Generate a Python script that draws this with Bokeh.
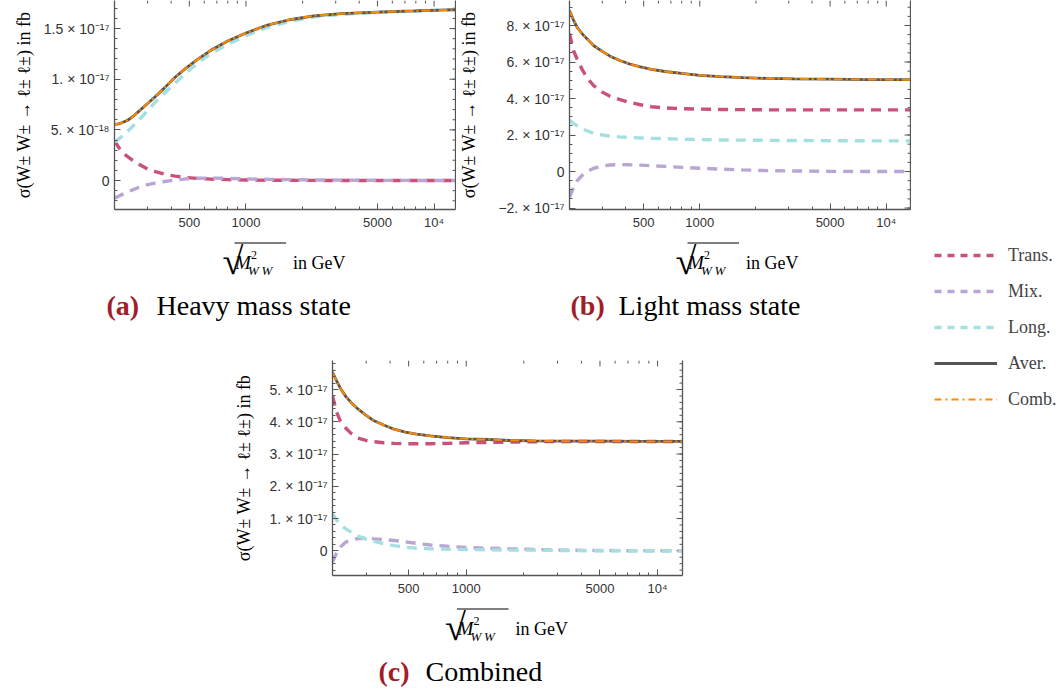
from bokeh.plotting import figure
from bokeh.models import (LinearAxis, FixedTicker, Range1d, Legend, LegendItem)
from bokeh.core.properties import value
from bokeh.layouts import row, column
from bokeh.embed import file_html
from bokeh.resources import INLINE
import numpy as np

# ---------------- data ----------------
mass = [200, 210, 220, 235, 250, 270, 300, 330, 370, 420, 480, 550, 650, 800, 1000,
        1300, 1700, 2300, 3200, 5000, 8000, 13500]

# (a) Heavy mass state, in units of 1e-18 fb
heavy_trans = [3.9, 3.3, 2.78, 2.35, 1.98, 1.6, 1.12, 0.88, 0.62, 0.43, 0.3, 0.21,
               0.14, 0.09, 0.05, 0.03, 0.02, 0.01, 0.0, 0.0, 0.0, 0.0]
heavy_mix = [-1.75, -1.55, -1.37, -1.12, -0.92, -0.66, -0.4, -0.25, -0.1, 0.05, 0.16,
             0.23, 0.24, 0.21, 0.16, 0.12, 0.09, 0.06, 0.04, 0.02, 0.01, 0.0]
heavy_long = [3.78, 4.08, 4.38, 4.86, 5.36, 5.98, 6.89, 7.76, 8.66, 9.63, 10.62, 11.55,
              12.53, 13.43, 14.3, 15.12, 15.7, 16.15, 16.4, 16.6, 16.74, 16.86]
heavy_aver = [5.55, 5.6, 5.72, 5.95, 6.3, 6.85, 7.6, 8.3, 9.17, 10.19, 11.09, 11.93,
              12.85, 13.78, 14.56, 15.35, 15.87, 16.26, 16.47, 16.63, 16.74, 16.88]
heavy_comb = [5.55, 5.6, 5.72, 5.95, 6.3, 6.85, 7.6, 8.3, 9.17, 10.19, 11.09, 11.93,
              12.85, 13.78, 14.56, 15.35, 15.87, 16.26, 16.47, 16.63, 16.74, 16.88]

# (b) Light mass state, in units of 1e-17 fb
light_trans = [7.55, 6.63, 6.15, 5.55, 5.1, 4.7, 4.35, 4.12, 3.95, 3.79, 3.66, 3.55,
               3.49, 3.44, 3.42, 3.4, 3.39, 3.38, 3.38, 3.38, 3.38, 3.38]
light_mix = [-1.4, -0.9, -0.5, -0.19, 0.02, 0.18, 0.3, 0.36, 0.38, 0.37, 0.35, 0.32,
             0.28, 0.23, 0.18, 0.13, 0.09, 0.05, 0.03, 0.01, 0.0, 0.0]
light_long = [2.8, 2.64, 2.5, 2.33, 2.22, 2.09, 2.0, 1.94, 1.9, 1.87, 1.84, 1.82,
              1.8, 1.77, 1.75, 1.73, 1.72, 1.71, 1.7, 1.69, 1.68, 1.68]
light_aver = [8.82, 8.3, 7.9, 7.52, 7.24, 6.89, 6.58, 6.32, 6.1, 5.89, 5.73, 5.6,
              5.48, 5.38, 5.27, 5.2, 5.15, 5.1, 5.08, 5.06, 5.04, 5.03]
light_comb = [8.82, 8.3, 7.9, 7.52, 7.24, 6.89, 6.58, 6.32, 6.1, 5.89, 5.73, 5.6,
              5.48, 5.38, 5.27, 5.2, 5.15, 5.1, 5.08, 5.06, 5.04, 5.03]

# (c) Combined, in units of 1e-17 fb
comb_trans = [4.8, 4.3, 4.02, 3.8, 3.64, 3.5, 3.42, 3.38, 3.35, 3.33, 3.32, 3.32,
              3.32, 3.33, 3.35, 3.36, 3.37, 3.38, 3.39, 3.39, 3.39, 3.39]
comb_mix = [-0.35, -0.07, 0.12, 0.27, 0.33, 0.38, 0.39, 0.37, 0.35, 0.32, 0.28, 0.23,
            0.18, 0.14, 0.1, 0.08, 0.06, 0.04, 0.02, 0.01, 0.0, 0.0]
comb_long = [1.15, 0.95, 0.8, 0.68, 0.58, 0.46, 0.36, 0.29, 0.22, 0.16, 0.11, 0.08,
             0.06, 0.05, 0.04, 0.03, 0.02, 0.02, 0.01, 0.0, 0.0, 0.0]
comb_aver = [5.54, 5.27, 5.04, 4.78, 4.6, 4.41, 4.2, 4.03, 3.9, 3.77, 3.68, 3.62,
             3.56, 3.51, 3.47, 3.45, 3.42, 3.41, 3.4, 3.4, 3.39, 3.39]
comb_comb = [5.54, 5.27, 5.04, 4.78, 4.6, 4.41, 4.2, 4.03, 3.9, 3.77, 3.68, 3.62,
             3.56, 3.51, 3.47, 3.45, 3.42, 3.41, 3.4, 3.4, 3.39, 3.39]

# ticks
x_ticks = [500, 1000, 5000, 10000]
x_tick_labels = ["500", "1000", "5000", "10\u2074"]
x_minor = [300, 400, 600, 700, 800, 900, 2000, 3000, 4000, 6000, 7000, 8000, 9000]

E17 = "\u00d7 10\u207b\u00b9\u2077"
heavy_yticks = [0, 5e-18, 1e-17, 1.5e-17]
heavy_ylabels = ["0", "5. \u00d7 10\u207b\u00b9\u2078", "1. " + E17, "1.5 " + E17]
light_yticks = [-2e-17, 0, 2e-17, 4e-17, 6e-17, 8e-17]
light_ylabels = ["\u22122. " + E17, "0", "2. " + E17, "4. " + E17, "6. " + E17, "8. " + E17]
comb_yticks = [0, 1e-17, 2e-17, 3e-17, 4e-17, 5e-17]
comb_ylabels = ["0", "1. " + E17, "2. " + E17, "3. " + E17, "4. " + E17, "5. " + E17]

series_names = ["Trans.", "Mix.", "Long.", "Aver.", "Comb."]
y_title = "\u03c3(W\u00b1 W\u00b1 \u2192 \u2113\u00b1 \u2113\u00b1) in fb"
captions = [("(a)", "Heavy mass state"), ("(b)", "Light mass state"), ("(c)", "Combined")]

# ---------------- styles ----------------
FRAME = "#555555"
TICKFONT = "Liberation Sans"
SERIF = "Liberation Serif"
CAPRED = "#a11d2b"
STYLES = {
    "Trans.": dict(color="#c9517a", width=3.4, dash="10 7"),
    "Mix.": dict(color="#b9a6d3", width=3.4, dash="10 7"),
    "Long.": dict(color="#a6dfe2", width=3.4, dash="10 7"),
    "Aver.": dict(color="#555555", width=2.8, dash="solid"),
    "Comb.": dict(color="#ff8a00", width=2.0, dash="9 3 2 3"),
}
MAJ, MIN = 6, 3


def style_axis(ax, ticks, minor, labels, size):
    ax.ticker = FixedTicker(ticks=ticks, minor_ticks=minor)
    ax.axis_line_color = FRAME
    ax.axis_line_width = 1.3
    ax.major_tick_line_color = FRAME
    ax.minor_tick_line_color = FRAME
    ax.major_tick_in = MAJ
    ax.major_tick_out = 0
    ax.minor_tick_in = MIN
    ax.minor_tick_out = 0
    ax.major_label_overrides = {t: l for t, l in zip(ticks, labels)}
    ax.major_label_text_font = TICKFONT
    ax.major_label_text_font_size = size
    ax.major_label_text_color = "#333333"
    ax.major_label_standoff = 5


def make_plot(xr, yr, fw, fh, borders, yticks, ylabels, yminor, ylab_standoff,
              series, scale):
    bl, bt, br, bb = borders
    p = figure(frame_width=fw, frame_height=fh, x_axis_type="log",
               x_range=Range1d(*xr), y_range=Range1d(*yr),
               output_backend="svg", toolbar_location=None,
               min_border_left=bl, min_border_top=bt, min_border_right=br,
               min_border_bottom=bb)
    p.xgrid.visible = False
    p.ygrid.visible = False
    p.outline_line_color = None
    p.background_fill_color = "white"
    p.border_fill_color = "white"

    style_axis(p.xaxis[0], x_ticks, x_minor, x_tick_labels, "13px")
    style_axis(p.yaxis[0], yticks, yminor, ylabels, "14px")
    p.yaxis[0].axis_label = y_title
    p.yaxis[0].axis_label_text_font = SERIF
    p.yaxis[0].axis_label_text_font_style = "normal"
    p.yaxis[0].axis_label_text_font_size = "18px"
    p.yaxis[0].axis_label_text_color = "black"
    p.yaxis[0].axis_label_standoff = ylab_standoff

    # right frame line (no ticks, no labels)
    right = LinearAxis(ticker=FixedTicker(ticks=[], minor_ticks=[]),
                       axis_line_color=FRAME, axis_line_width=1.3,
                       major_label_standoff=0)
    p.add_layout(right, "right")

    # mirrored frame ticks on top and right edges
    dy = (yr[1] - yr[0]) / fh
    rx = 10 ** (np.log10(xr[1] / xr[0]) / fw)
    for xs, ln in ((x_ticks, MAJ), (x_minor, MIN)):
        p.segment(x0=xs, y0=[yr[1]] * len(xs), x1=xs, y1=[yr[1] - ln * dy] * len(xs),
                  line_color=FRAME, line_width=1)
    for ys, ln in ((yticks, MAJ), (yminor, MIN)):
        p.segment(x0=[xr[1]] * len(ys), y0=ys, x1=[xr[1] / rx ** ln] * len(ys), y1=ys,
                  line_color=FRAME, line_width=1)

    for name, vals in zip(series_names, series):
        st = STYLES[name]
        p.line(mass, np.array(vals) * scale, line_color=st["color"],
               line_width=st["width"], line_dash=st["dash"], line_cap="butt")
    return p


def text_panel(width, height, xlabel_centers, xlabel_base, cap_items):
    """Figure holding the x-axis titles and subfigure captions.
    Coordinates are pixels from the panel's top-left corner."""
    t = figure(frame_width=width, frame_height=height, output_backend="svg",
               toolbar_location=None, min_border=0,
               x_range=Range1d(0, width), y_range=Range1d(height, 0))
    t.axis.visible = False
    t.xgrid.visible = False
    t.ygrid.visible = False
    t.outline_line_color = None

    def txt(xs, ys, s, size, style="normal", color="black"):
        t.text(x=xs, y=ys, text=[s] * len(xs), text_font=value(SERIF),
               text_font_size=value(size), text_font_style=value(style),
               text_color=color, text_baseline=value("alphabetic"),
               text_align=value("left"))

    cs = list(xlabel_centers)
    b = xlabel_base
    txt([c - 62.5 for c in cs], [b - 2] * len(cs), "\u221a", "38px")
    txt([c - 50 for c in cs], [b] * len(cs), "M", "19px", "italic")
    txt([c - 34 for c in cs], [b - 8] * len(cs), "2", "12px")
    txt([c - 37 for c in cs], [b + 8] * len(cs), "W\u2009W", "13px", "italic")
    txt([c + 8 for c in cs], [b] * len(cs), "in GeV", "18px")
    t.segment(x0=[c - 50.5 for c in cs], y0=[b - 19.5] * len(cs),
              x1=[c + 1 for c in cs], y1=[b - 19.5] * len(cs),
              line_color="black", line_width=1)
    for (tag, cap), (xt, xc, yb) in cap_items:
        txt([xt], [yb], tag, "28px", "bold", CAPRED)
        txt([xc], [yb], cap, "28px")
    return t


pa = make_plot((200, 13000), (-2.86e-18, 17.77e-18), 341, 209, (114, 0, 1, 26),
               heavy_yticks, heavy_ylabels, list(np.arange(-2e-18, 17.5e-18, 1e-18)), 7,
               [heavy_trans, heavy_mix, heavy_long, heavy_aver, heavy_comb], 1e-18)
pb = make_plot((200, 13500), (-2.08e-17, 9.37e-17), 341, 209, (111, 0, 1, 26),
               light_yticks, light_ylabels, list(np.arange(-2e-17, 9.3e-17, 0.5e-17)), 16,
               [light_trans, light_mix, light_long, light_aver, light_comb], 1e-17)
pc = make_plot((200, 13500), (-0.766e-17, 5.9e-17), 350, 215, (332, 15, 228, 26),
               comb_yticks, comb_ylabels, list(np.arange(-0.6e-17, 5.9e-17, 0.2e-17)), 13,
               [comb_trans, comb_mix, comb_long, comb_aver, comb_comb], 1e-17)

# text panels: top row spans page y 235..345, bottom row page y 601..697
t1 = text_panel(910, 110, [284.5, 737.5], 262 - 235,
                [(captions[0], (106, 156, 305 - 235)), (captions[1], (570, 618, 305 - 235))])
t2 = text_panel(910, 96, [507.0], 628 - 601,
                [(captions[2], (378, 425, 671 - 601))])

# legend panel
leg = figure(width=154, height=697, output_backend="svg", toolbar_location=None,
             min_border=0, x_range=Range1d(0, 1), y_range=Range1d(0, 1))
leg.axis.visible = False
leg.xgrid.visible = False
leg.ygrid.visible = False
leg.outline_line_color = None
items = []
for name in series_names:
    st = STYLES[name]
    dash = st["dash"]
    if dash == "10 7":
        dash = "7 6"
    elif dash != "solid":
        dash = "7 4 2 4"
    r = leg.line(x=[np.nan], y=[np.nan], line_color=st["color"], line_width=st["width"],
                 line_dash=dash)
    items.append(LegendItem(label=name, renderers=[r]))
legend = Legend(items=items, location=(23, 287), orientation="vertical",
                glyph_width=63, glyph_height=22, label_height=22, spacing=14,
                padding=0, margin=0, label_standoff=11,
                label_text_font=SERIF, label_text_font_size="18px",
                border_line_color=None, background_fill_alpha=0)
leg.add_layout(legend)

left = column(row(pa, pb), row(t1), row(pc), row(t2))
layout = row(left, leg)
open("out.html", "w").write(file_html(layout, INLINE))
